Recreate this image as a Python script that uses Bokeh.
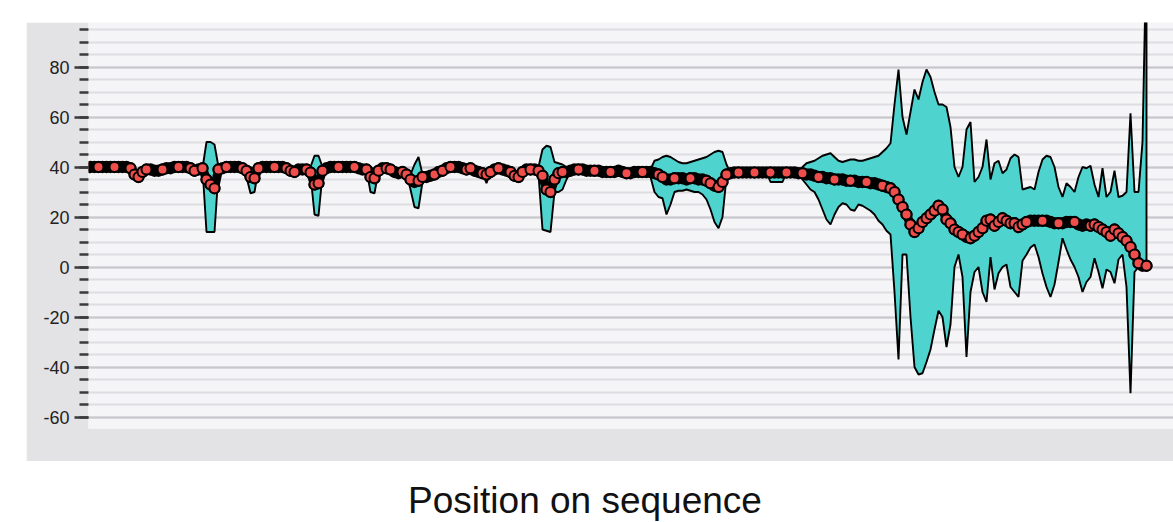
from bokeh.plotting import figure
from bokeh.models import Range1d, SingleIntervalTicker, Div, Spacer, CustomJSTickFormatter
from bokeh.layouts import column, row
from bokeh.embed import file_html
from bokeh.resources import INLINE

# ---------------- data ----------------
position = list(range(1, 266))

mean = [
    40, 40, 40, 40, 40, 40, 40, 40, 40, 40,
    39.5, 37, 36, 38, 39, 39, 38.5, 38.5, 39, 39.5,
    39.5, 40, 40, 40, 40, 39.5, 38.5, 39, 39.5, 35,
    33, 31.5, 39, 39.5, 40, 40, 40, 40, 39.5, 38.5,
    36, 35.5, 39.5, 40, 40, 40, 40, 40, 40, 39.5,
    38.5, 38, 39, 39, 39, 37.8, 33, 33.5, 38.5, 39.5,
    40, 40, 40, 40, 40, 40, 40, 39.5, 39, 39,
    36, 35.5, 38.5, 39.5, 39.5, 39, 38, 37.5, 38, 37,
    35, 34, 34.5, 36, 36, 36.5, 37, 38, 38.5, 39.5,
    40, 40, 40, 39.5, 39, 39.5, 38.5, 38, 37.5, 37,
    38, 39, 39.5, 39, 38.5, 38, 36.5, 36, 38, 39,
    39, 39, 38.5, 36.5, 31, 30, 35, 37.5, 38, 38,
    38.5, 39, 39, 39, 38.5, 38.5, 38.5, 38.5, 38, 38,
    38, 38, 38.5, 38, 37.5, 37.5, 38, 38, 38, 38,
    38, 37.5, 37, 36, 35, 35, 35.5, 35.5, 35.5, 35,
    35.5, 35.5, 35, 35, 34.5, 33.5, 32.5, 32, 34, 37,
    37.5, 37.8, 37.8, 37.8, 37.8, 37.8, 37.8, 37.8, 37.8, 37.8,
    37.8, 37.8, 37.8, 37.8, 37.8, 37.8, 37.8, 37.5, 37.5, 37,
    37, 36.5, 36, 36, 35.5, 35.5, 35, 35, 35, 34.5,
    34.5, 34.5, 34, 34, 34, 33.5, 33.5, 33, 32.5, 32,
    31.5, 30, 27, 24, 21, 17, 14, 15.5, 18, 19.5,
    21, 22.5, 24.5, 23, 19, 17.5, 15, 14, 13, 12,
    11.5, 12.5, 14, 15.5, 18.5, 19, 16.5, 18, 19.5, 18.5,
    17.5, 17.5, 16, 17, 18, 18.5, 18.5, 18.5, 18.5, 18.5,
    18, 17.5, 17.5, 17.5, 18, 18, 18, 17, 16.5, 17,
    16.5, 17, 16, 15, 14, 12.5, 15, 13.5, 12, 10.5,
    8, 5, 1.5, 0.5, 0.5,
]

upper = [
    40, 40, 40, 40, 40, 40, 40, 40, 40, 40,
    39.5, 37, 36, 38, 39, 39, 38.5, 38.5, 39, 39.5,
    39.5, 40, 40, 40, 40, 39.5, 38.5, 39, 39.5, 50,
    50, 49, 40, 39.5, 40, 40, 40, 40, 39.5, 38.5,
    40, 39, 39.5, 40, 40, 40, 40, 40, 40, 39.5,
    38.5, 38, 39, 39, 39, 40, 44.5, 44.5, 40, 39.5,
    40, 40, 40, 40, 40, 40, 40, 39.5, 39, 39,
    40, 39, 38.5, 39.5, 39.5, 39, 38, 37.5, 38, 37.5,
    37, 41, 44, 37, 36, 36.5, 37, 38, 38.5, 39.5,
    40, 40, 40, 39.5, 39, 39.5, 38.5, 38, 37.5, 37,
    38, 39, 39.5, 39, 38.5, 38, 36.5, 36, 38, 39,
    39, 39, 40, 47, 48.5, 48, 42, 41.5, 41, 40,
    38.5, 39, 39, 39, 38.5, 38.5, 38.5, 38.5, 38, 38,
    38, 38, 38.5, 38, 37.5, 37.5, 38, 38, 38, 38,
    39, 42.5, 43, 44, 44.5, 44, 43, 42, 41.5, 41.5,
    42, 42.5, 43, 43.5, 44, 45, 46, 46.5, 46, 41,
    37.5, 37.8, 37.8, 37.8, 37.8, 37.8, 37.8, 37.8, 37.8, 37.8,
    37.8, 37.8, 37.8, 37.8, 37.8, 37.8, 37.8, 38, 40, 41.5,
    42, 42.5, 43.5, 44.5, 45, 45.5, 44, 42.5, 42, 42.5,
    43, 43, 42.5, 42.5, 43, 43.5, 44, 44.5, 46, 47.5,
    49.5, 65, 79, 60, 53, 62, 71, 67, 74, 79,
    76, 70, 65, 65, 64, 56, 40, 36, 40, 55,
    58, 34, 36, 40, 51, 35, 41.5, 42.5, 37.5, 39,
    43.5, 45, 44, 31, 31.5, 32, 31, 38, 43, 44.5,
    44, 40, 32, 28, 33.5, 32, 30, 36, 40, 39.5,
    40.5, 33, 28, 39.5, 28, 30, 38.5, 28, 28.5, 30,
    61.5, 30, 30, 50, 130,
]

lower = [
    40, 40, 40, 40, 40, 40, 40, 40, 40, 40,
    39.5, 37, 36, 38, 39, 39, 38.5, 38.5, 39, 39.5,
    39.5, 40, 40, 40, 40, 39.5, 38.5, 39, 39.5, 14,
    14, 14, 38, 39.5, 40, 40, 40, 40, 39.5, 36,
    29.5, 30, 39.5, 40, 40, 40, 40, 40, 40, 39.5,
    38.5, 38, 39, 39, 39, 37, 21, 20.5, 37, 39.5,
    40, 40, 40, 40, 40, 40, 40, 39.5, 39, 39,
    30, 29.5, 38.5, 39.5, 39.5, 39, 38, 37.5, 38, 37,
    31, 24, 23.5, 34, 36, 36.5, 37, 38, 38.5, 39.5,
    40, 40, 40, 39.5, 39, 39.5, 38.5, 38, 37.5, 33.5,
    38, 39, 39.5, 39, 38.5, 38, 36.5, 36, 38, 39,
    39, 39, 37, 15, 14.5, 14, 30, 30, 31, 35,
    38.5, 39, 39, 39, 38.5, 38.5, 38.5, 38.5, 38, 38,
    38, 38, 38.5, 38, 37.5, 37.5, 38, 38, 38, 38,
    36, 30, 28, 27.5, 21, 25, 30, 30.5, 30.5, 31,
    30.5, 30, 30, 29, 27, 23, 18, 15.5, 20, 36,
    37.5, 37.8, 37.8, 37.8, 37.8, 37.8, 37.8, 37.8, 37.8, 37.8,
    34, 34, 34, 34, 37.8, 37.8, 37.8, 37, 35, 33,
    31, 30, 27, 23, 19, 17, 21, 24, 25.5, 25,
    23, 22.5, 25, 24.5, 23.5, 22.5, 21, 18.5, 17, 14.5,
    13, -10, -37, 5, 5, -20, -40, -43, -42.5, -38,
    -33, -25, -17.5, -20, -32, -23, 0, 5, -4, -36,
    -10, -2, 0, -10, -14, 4, -9, -2.5, 0, 1,
    -8, -10, -12, 2.5, 5, 7.8, 9, 4, -2.6, -8,
    -12, -7, 2, 11.5, 7, 3, 0, -4, -10, -6,
    -4, 3.5, -2, -8.5, -1, -2, -6.5, 3, 5, -8,
    -50.5, -2, 0, 0, 0,
]

y_tick_interval = 20
x_title = "Position on sequence"

# ---------------- styles ----------------
CYAN = "#4ed3cf"
RED = "#f04e4a"
FONT = "Liberation Sans"

p = figure(width=1147, height=439, output_backend="svg", toolbar_location=None,
           x_range=Range1d(0.5, 271.75), y_range=Range1d(-64.6, 97.8),
           x_axis_location=None,
           min_border_left=62, min_border_right=0, min_border_top=0, min_border_bottom=33,
           background_fill_color="#f5f5f7", border_fill_color="#e3e3e5",
           outline_line_color=None)

band_x = position + position[::-1]
band_y = upper + lower[::-1]
p.patch(band_x, band_y, fill_color=CYAN, line_color="black", line_width=1.9)

# dense stacked markers: all points form a thick black trace
p.scatter(position, mean, size=10, fill_color=RED, line_color="black", line_width=2.3)
p.line(position, mean, line_color="black", line_width=9, line_join="round", line_cap="round")

# points that stand apart from their neighbours remain visible on top
n = len(mean)
apart = [i for i in range(n)
         if i == n - 1
         or abs(mean[i + 1] - mean[i]) >= 1.0
         or (i > 0 and abs(mean[i] - mean[i - 1]) >= 1.5)
         or (i % 4 == 2)]
p.scatter([position[i] for i in apart], [mean[i] for i in apart], size=10,
          fill_color=RED, line_color="black", line_width=2.0)

ax = p.yaxis[0]
ax.ticker = SingleIntervalTicker(interval=y_tick_interval, num_minor_ticks=4)
ax.formatter = CustomJSTickFormatter(code="return String(Math.round(tick));")
ax.axis_line_color = None
ax.major_tick_in = 0
ax.major_tick_out = 14
ax.minor_tick_in = 0
ax.minor_tick_out = 9
ax.major_tick_line_width = 2.5
ax.minor_tick_line_width = 2.5
ax.major_tick_line_color = "#3a3a3a"
ax.minor_tick_line_color = "#3a3a3a"
ax.major_label_standoff = 5
ax.major_label_text_font = FONT
ax.major_label_text_font_size = "18px"
ax.major_label_text_color = "#222222"

p.xgrid.visible = False
p.ygrid.grid_line_color = "#c8c8cc"
p.ygrid.grid_line_width = 2
p.ygrid.minor_grid_line_color = "#dedee2"
p.ygrid.minor_grid_line_width = 2

title = Div(
    text=('<div style="margin:0;padding-top:17px;font-family:\'Liberation Sans\';'
          'font-size:37px;line-height:36px;color:#111;text-align:center;width:1160px;">'
          + x_title + '</div>'),
    width=1173, height=61, styles={"overflow": "hidden"})

layout = column(Spacer(width=10, height=22),
                row(Spacer(width=26, height=10), p),
                title)

open("out.html", "w").write(file_html(layout, INLINE))
